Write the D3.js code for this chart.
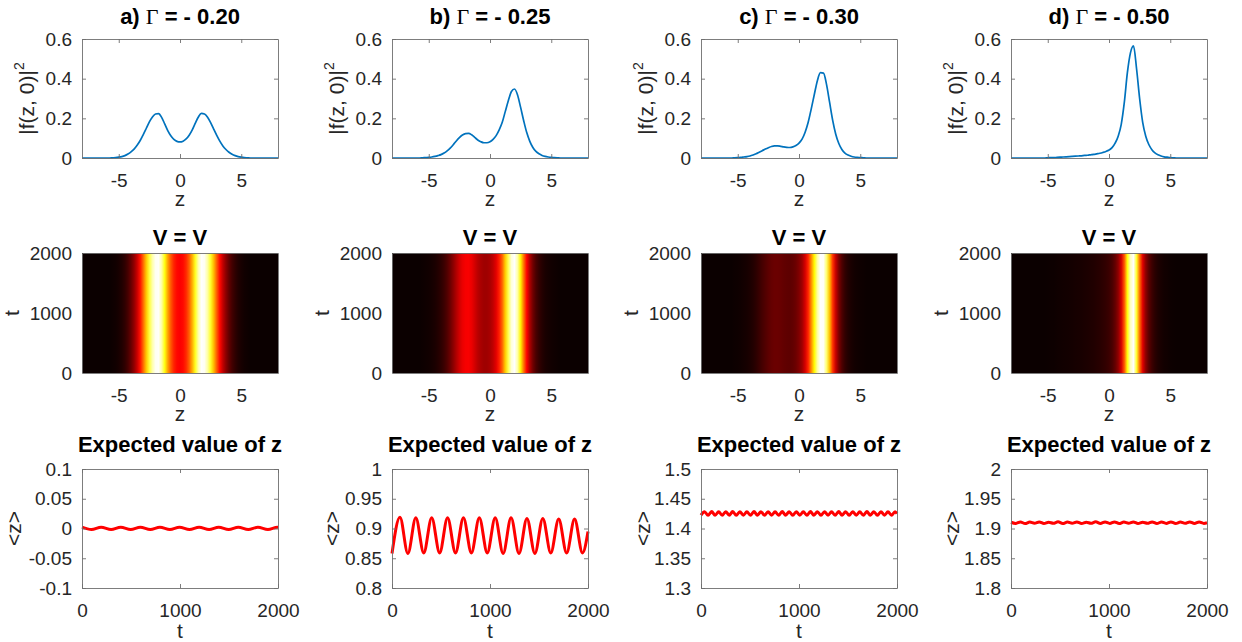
<!DOCTYPE html>
<html>
<head>
<meta charset="UTF-8">
<script src="https://d3js.org/d3.v7.min.js"></script>
<style>
  body { margin: 0; background: #fff; }
  svg { display: block; font-family: "Liberation Sans", Arial, sans-serif; }
</style>
</head>
<body>
<svg id="chart" width="1242" height="642"></svg>
<script>
// ---- data ----
const panels = ["a)", "b)", "c)", "d)"];
const gammas = ["- 0.20", "- 0.25", "- 0.30", "- 0.50"];

// z grid of the initial density |f(z,0)|^2
const zGrid = [-8, -7.75, -7.5, -7.25, -7, -6.75, -6.5, -6.25, -6, -5.75, -5.5, -5.25, -5, -4.75, -4.5, -4.25,
  -4, -3.75, -3.5, -3.25, -3, -2.75, -2.5, -2.25, -2, -1.75, -1.5, -1.25, -1, -0.75, -0.5, -0.25,
  0, 0.25, 0.5, 0.75, 1, 1.25, 1.5, 1.75, 2, 2.25, 2.5, 2.75, 3, 3.25, 3.5, 3.75,
  4, 4.25, 4.5, 4.75, 5, 5.25, 5.5, 5.75, 6, 6.25, 6.5, 6.75, 7, 7.25, 7.5, 7.75, 8];

const densA = [0, 0, 0, 0, 0, 0, 0, 0, 0, 0, 0.001, 0.002, 0.004, 0.007, 0.012, 0.02,
  0.031, 0.045, 0.064, 0.088, 0.118, 0.15, 0.182, 0.207, 0.222, 0.224, 0.205, 0.172, 0.138, 0.112, 0.094, 0.084,
  0.081, 0.085, 0.096, 0.115, 0.142, 0.176, 0.207, 0.225, 0.222, 0.205, 0.178, 0.146, 0.114, 0.085, 0.061, 0.043,
  0.029, 0.019, 0.012, 0.007, 0.004, 0.002, 0.001, 0, 0, 0, 0, 0, 0, 0, 0, 0, 0];
const densB = [0, 0, 0, 0, 0, 0, 0, 0, 0, 0, 0.001, 0.002, 0.003, 0.005, 0.008, 0.012,
  0.017, 0.025, 0.036, 0.05, 0.067, 0.086, 0.103, 0.116, 0.123, 0.124, 0.117, 0.104, 0.091, 0.082, 0.077, 0.077,
  0.082, 0.094, 0.113, 0.142, 0.18, 0.235, 0.29, 0.335, 0.348, 0.318, 0.255, 0.188, 0.128, 0.084, 0.053, 0.033,
  0.021, 0.013, 0.008, 0.005, 0.003, 0.002, 0.001, 0, 0, 0, 0, 0, 0, 0, 0, 0, 0];
const densC = [0, 0, 0, 0, 0, 0, 0, 0, 0, 0, 0, 0.001, 0.002, 0.003, 0.005, 0.007,
  0.01, 0.015, 0.021, 0.029, 0.037, 0.045, 0.052, 0.058, 0.061, 0.061, 0.059, 0.056, 0.054, 0.053, 0.056, 0.063,
  0.075, 0.095, 0.13, 0.18, 0.248, 0.32, 0.39, 0.43, 0.428, 0.37, 0.28, 0.19, 0.12, 0.073, 0.043, 0.025,
  0.015, 0.009, 0.005, 0.003, 0.002, 0.001, 0, 0, 0, 0, 0, 0, 0, 0, 0, 0, 0];
const densD = [0, 0, 0, 0, 0, 0, 0, 0, 0, 0, 0, 0, 0.001, 0.002, 0.002, 0.003,
  0.004, 0.005, 0.006, 0.007, 0.008, 0.009, 0.01, 0.011, 0.013, 0.014, 0.016, 0.018, 0.021, 0.024, 0.028, 0.033,
  0.04, 0.052, 0.075, 0.11, 0.17, 0.28, 0.43, 0.53, 0.565, 0.45, 0.3, 0.18, 0.11, 0.068, 0.042, 0.026,
  0.016, 0.01, 0.006, 0.004, 0.002, 0.001, 0, 0, 0, 0, 0, 0, 0, 0, 0, 0, 0];
const densities = [densA, densB, densC, densD];

// expected value <z>(t): turning points of the oscillation
const tA = [0, 97, 195, 297, 395, 497, 595, 697, 795, 897, 995, 1097, 1195, 1297, 1395, 1497, 1595, 1697, 1795, 1897, 1995, 2000];
const zA = [0.0022, -0.0018, 0.0021, -0.0018, 0.0022, -0.0017, 0.0022, -0.0018, 0.0021, -0.0018, 0.0022,
  -0.0018, 0.0021, -0.0018, 0.0022, -0.0017, 0.0022, -0.0018, 0.0021, -0.0018, 0.0022, 0.0022];
const tB = [0, 81, 162, 243, 324, 405, 486, 567, 648, 729, 810, 891, 972, 1053, 1134, 1215, 1296, 1377,
  1458, 1539, 1620, 1701, 1782, 1863, 1944, 2000];
const zB = [0.858, 0.919, 0.858, 0.918, 0.859, 0.918, 0.859, 0.918, 0.859, 0.918, 0.859, 0.918, 0.859,
  0.918, 0.858, 0.918, 0.858, 0.917, 0.858, 0.917, 0.859, 0.916, 0.859, 0.916, 0.859, 0.895];
const tC = [0, 36, 72, 108, 144, 180, 216, 252, 288, 324, 360, 396, 432, 468, 504, 540, 576, 612, 648, 684,
  720, 756, 792, 828, 864, 900, 936, 972, 1008, 1044, 1080, 1116, 1152, 1188, 1224, 1260, 1296, 1332, 1368,
  1404, 1440, 1476, 1512, 1548, 1584, 1620, 1656, 1692, 1728, 1764, 1800, 1836, 1872, 1908, 1944, 1980, 2000];
const zC = [1.4224, 1.4283, 1.4222, 1.4284, 1.4223, 1.4282, 1.4222, 1.4283, 1.4223, 1.4284, 1.4222, 1.4283,
  1.4223, 1.4282, 1.4222, 1.4284, 1.4223, 1.4283, 1.4222, 1.4283, 1.4223, 1.4282, 1.4222, 1.4284, 1.4223,
  1.4283, 1.4222, 1.4283, 1.4223, 1.4282, 1.4222, 1.4284, 1.4223, 1.4283, 1.4222, 1.4283, 1.4223, 1.4282,
  1.4222, 1.4284, 1.4223, 1.4283, 1.4222, 1.4283, 1.4223, 1.4282, 1.4222, 1.4284, 1.4223, 1.4283, 1.4222,
  1.4283, 1.4223, 1.4282, 1.4222, 1.4283, 1.4250];
const tD = [0, 48, 96, 144, 192, 240, 288, 336, 384, 432, 480, 528, 576, 624, 672, 720, 768, 816, 864, 912,
  960, 1008, 1056, 1104, 1152, 1200, 1248, 1296, 1344, 1392, 1440, 1488, 1536, 1584, 1632, 1680, 1728, 1776,
  1824, 1872, 1920, 1968, 2000];
const zD = [1.9105, 1.9086, 1.9110, 1.9084, 1.9108, 1.9088, 1.9111, 1.9085, 1.9107, 1.9087, 1.9112, 1.9084,
  1.9108, 1.9088, 1.9110, 1.9085, 1.9107, 1.9087, 1.9112, 1.9085, 1.9109, 1.9086, 1.9111, 1.9084, 1.9108,
  1.9088, 1.9110, 1.9085, 1.9107, 1.9087, 1.9111, 1.9084, 1.9109, 1.9086, 1.9110, 1.9085, 1.9108, 1.9087,
  1.9111, 1.9085, 1.9109, 1.9086, 1.9097];
const expT = [tA, tB, tC, tD];
const expZ = [zA, zB, zC, zD];

// axes ranges and tick labels
const zTicks = [-5, 0, 5], zTickLabels = ["-5", "0", "5"];
const densTicks = [0, 0.2, 0.4, 0.6], densTickLabels = ["0", "0.2", "0.4", "0.6"];
const tTicks = [0, 1000, 2000], tTickLabels = ["0", "1000", "2000"];
const expDomains = [[-0.1, 0.1], [0.8, 1], [1.3, 1.5], [1.8, 2]];
const expTicks = [[-0.1, -0.05, 0, 0.05, 0.1], [0.8, 0.85, 0.9, 0.95, 1], [1.3, 1.35, 1.4, 1.45, 1.5], [1.8, 1.85, 1.9, 1.95, 2]];
const expTickLabels = [["-0.1", "-0.05", "0", "0.05", "0.1"], ["0.8", "0.85", "0.9", "0.95", "1"],
  ["1.3", "1.35", "1.4", "1.45", "1.5"], ["1.8", "1.85", "1.9", "1.95", "2"]];

// ---- layout ----
const colLeft = [82, 392, 701, 1011];
const plotW = 196;
const rowTop = [39, 253, 469];
const rowH = [119, 120, 119];
const ink = "#262626";
const boxColor = "#6e6e6e";

const svg = d3.select("#chart");
svg.append("rect").attr("width", 1242).attr("height", 642).attr("fill", "#fff");
const defs = svg.append("defs");

// MATLAB "hot" colormap
const hot = d3.scaleLinear().domain([0, 0.365, 0.75, 1])
  .range(["#0b0000", "#ff0000", "#ffff00", "#ffffff"]).clamp(true);

function styleAxis(g, tick) {
  g.selectAll("text").attr("font-size", 19).attr("fill", ink).attr("font-family", "'Liberation Sans', Arial, sans-serif");
  g.selectAll("line").attr("stroke", boxColor).attr("stroke-width", 0.9);
  g.select(".domain").attr("stroke", boxColor).attr("stroke-width", 0.9);
  if (!tick) g.selectAll("line").remove();
}

function boxAxes(g, x, y, xt, xl, yt, yl, ticks) {
  const w = x.range()[1] - x.range()[0];
  const h = y.range()[0] - y.range()[1];
  const ts = ticks ? -4 : 0;
  g.append("g").attr("transform", `translate(0,${h})`)
    .call(d3.axisBottom(x).tickValues(xt).tickFormat((d, i) => xl[i]).tickSize(ts).tickSizeOuter(0).tickPadding(16))
    .call(a => styleAxis(a, ticks));
  g.append("g")
    .call(d3.axisLeft(y).tickValues(yt).tickFormat((d, i) => yl[i]).tickSize(ts).tickSizeOuter(0).tickPadding(10))
    .call(a => styleAxis(a, ticks));
  g.append("g")
    .call(d3.axisTop(x).tickValues(xt).tickFormat("").tickSize(ts).tickSizeOuter(0))
    .call(a => styleAxis(a, ticks));
  g.append("g").attr("transform", `translate(${w},0)`)
    .call(d3.axisRight(y).tickValues(yt).tickFormat("").tickSize(ts).tickSizeOuter(0))
    .call(a => styleAxis(a, ticks));
}

function title(g, w, baseline, parts) {
  const t = g.append("text").attr("x", w / 2).attr("y", baseline).attr("text-anchor", "middle")
    .attr("font-size", 22).attr("font-weight", "bold").attr("fill", "#000");
  parts.forEach(p => {
    const s = t.append("tspan").text(p.text);
    if (p.serif) s.attr("font-family", "'Liberation Serif', 'DejaVu Serif', serif").attr("font-weight", "normal");
  });
}

function xLabel(g, w, yPos, txt) {
  g.append("text").attr("x", w / 2).attr("y", yPos).attr("text-anchor", "middle")
    .attr("font-size", 21).attr("fill", ink).text(txt);
}

function yLabel(g, off, h, txt, sup) {
  const t = g.append("text").attr("transform", `translate(${-off},${h / 2}) rotate(-90)`)
    .attr("text-anchor", "middle").attr("dy", "0.35em").attr("font-size", 21).attr("fill", ink);
  t.append("tspan").text(txt);
  if (sup) t.append("tspan").attr("font-size", 14).attr("dy", "-0.75em").text(sup);
}

const expLabelOff = [68, 60, 58, 59];

colLeft.forEach((left, c) => {
  // row 1: initial density
  {
    const h = rowH[0];
    const g = svg.append("g").attr("transform", `translate(${left},${rowTop[0]})`);
    const x = d3.scaleLinear().domain([-8, 8]).range([0, plotW]);
    const y = d3.scaleLinear().domain([0, 0.6]).range([h, 0]);
    const dens = densities[c];
    g.append("path")
      .datum(zGrid.map((z, i) => [z, dens[i]]))
      .attr("fill", "none").attr("stroke", "#0072BD").attr("stroke-width", 1.7)
      .attr("d", d3.line().x(d => x(d[0])).y(d => y(d[1])).curve(d3.curveMonotoneX));
    boxAxes(g, x, y, zTicks, zTickLabels, densTicks, densTickLabels, true);
    title(g, plotW, 24 - rowTop[0], [{ text: panels[c] + " " }, { text: "Γ", serif: true }, { text: " = " + gammas[c] }]);
    xLabel(g, plotW, h + 48, "z");
    yLabel(g, 55, h, "|f(z, 0)|", "2");
  }
  // row 2: density map over time
  {
    const h = rowH[1];
    const g = svg.append("g").attr("transform", `translate(${left},${rowTop[1]})`);
    const x = d3.scaleLinear().domain([-8, 8]).range([0, plotW]);
    const y = d3.scaleLinear().domain([0, 2000]).range([h, 0]);
    const dens = densities[c];
    const dmax = d3.max(dens);
    const grad = defs.append("linearGradient").attr("id", "hm" + c)
      .attr("x1", 0).attr("x2", 1).attr("y1", 0).attr("y2", 0);
    zGrid.forEach((z, i) => {
      grad.append("stop").attr("offset", x(z) / plotW).attr("stop-color", hot(dens[i] / dmax));
    });
    g.append("rect").attr("x", x(-8)).attr("y", y(2000)).attr("width", x(8) - x(-8)).attr("height", y(0) - y(2000))
      .attr("fill", `url(#hm${c})`);
    boxAxes(g, x, y, zTicks, zTickLabels, tTicks, tTickLabels, false);
    title(g, plotW, 245 - rowTop[1], [{ text: "V = V" }]);
    xLabel(g, plotW, h + 48, "z");
    yLabel(g, 70, h, "t");
  }
  // row 3: expected value of z
  {
    const h = rowH[2];
    const g = svg.append("g").attr("transform", `translate(${left},${rowTop[2]})`);
    const x = d3.scaleLinear().domain([0, 2000]).range([0, plotW]);
    const y = d3.scaleLinear().domain(expDomains[c]).range([h, 0]);
    const ts = expT[c], zs = expZ[c];
    g.append("path")
      .datum(ts.map((t, i) => [t, zs[i]]))
      .attr("fill", "none").attr("stroke", "#ff0000").attr("stroke-width", 3).attr("stroke-linejoin", "round")
      .attr("d", d3.line().x(d => x(d[0])).y(d => y(d[1])).curve(d3.curveMonotoneX));
    boxAxes(g, x, y, tTicks, tTickLabels, expTicks[c], expTickLabels[c], true);
    title(g, plotW, 452 - rowTop[2], [{ text: "Expected value of z" }]);
    xLabel(g, plotW, h + 50, "t");
    yLabel(g, expLabelOff[c], h, "<z>");
  }
});
</script>
</body>
</html>
